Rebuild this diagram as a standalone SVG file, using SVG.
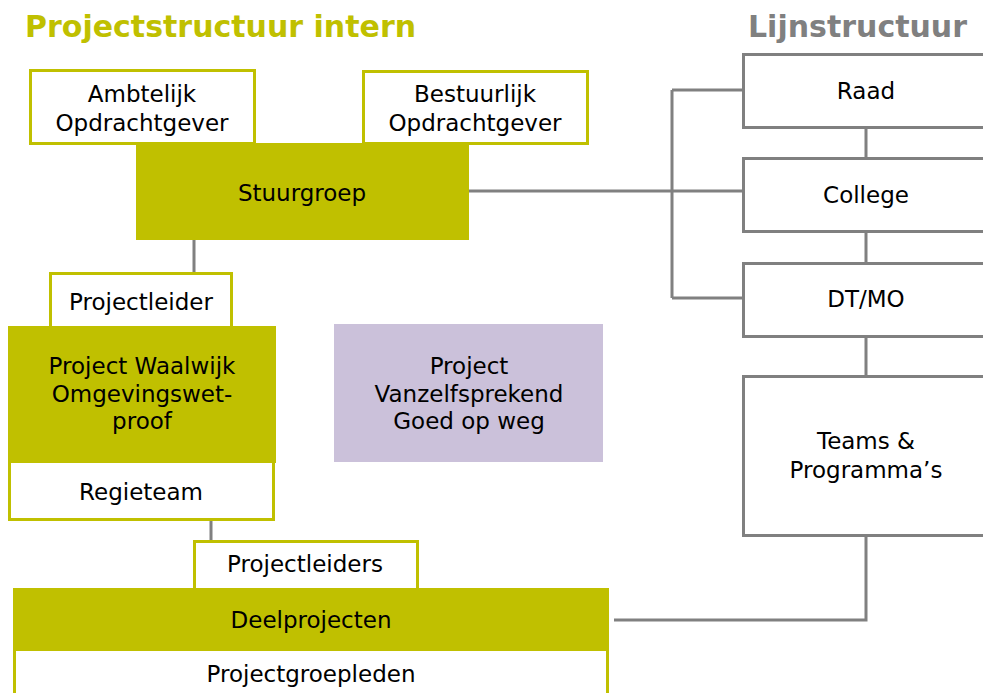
<svg xmlns="http://www.w3.org/2000/svg" width="983" height="693" viewBox="0 0 983 693">
<style>
text{font-family:"DejaVu Sans",Verdana,sans-serif;font-size:23px;fill:#000;text-anchor:middle}
.title{font-size:30px;font-weight:bold;text-anchor:start}
.wb{fill:#fff;stroke:#C0C000;stroke-width:3}
.ol{fill:#C0C000}
.gb{fill:#fff;stroke:#808080;stroke-width:3}
.pu{fill:#CBC1DA}
.cn{fill:none;stroke:#808080;stroke-width:3}
</style>
<rect width="983" height="693" fill="#fff"/>
<text class="title" x="25" y="37" fill="#C0C000" style="fill:#C0C000">Projectstructuur intern</text>
<text class="title" x="748" y="37" style="fill:#808080">Lijnstructuur</text>
<g id="connectors">
<path class="cn" d="M469 191H742M672 90V298M672 90H742M672 298H742"/>
<path class="cn" d="M866 128V157M866 231V262M866 336V375M866 535V620H614"/>
<path class="cn" d="M194 240V272M211 520V541"/>
</g>
<g id="ambtelijk">
<rect class="wb" x="30.5" y="70.5" width="224" height="73"/>
<text x="142" y="102">Ambtelijk</text>
<text x="142" y="131">Opdrachtgever</text>
</g>
<g id="bestuurlijk">
<rect class="wb" x="363.5" y="71.5" width="224" height="72"/>
<text x="475" y="102">Bestuurlijk</text>
<text x="475" y="131">Opdrachtgever</text>
</g>
<g id="stuurgroep">
<rect class="ol" x="136" y="143" width="333" height="97"/>
<text x="302" y="201">Stuurgroep</text>
</g>
<g id="raad">
<rect class="gb" x="743.5" y="54.5" width="260" height="73"/>
<text x="866" y="99">Raad</text>
</g>
<g id="college">
<rect class="gb" x="743.5" y="158.5" width="260" height="73"/>
<text x="866" y="203">College</text>
</g>
<g id="dtmo">
<rect class="gb" x="743.5" y="263.5" width="260" height="73"/>
<text x="866" y="307">DT/MO</text>
</g>
<g id="teams">
<rect class="gb" x="743.5" y="376.5" width="260" height="159"/>
<text x="866" y="449">Teams &amp;</text>
<text x="866" y="478">Programma’s</text>
</g>
<g id="projectleider">
<rect class="wb" x="50.5" y="273.5" width="181" height="54"/>
<text x="141" y="310">Projectleider</text>
</g>
<g id="regieteam">
<rect class="wb" x="9.5" y="460.5" width="264" height="59"/>
<text x="141" y="500">Regieteam</text>
</g>
<g id="waalwijk">
<rect class="ol" x="8" y="326" width="268" height="137"/>
<text x="142" y="374">Project Waalwijk</text>
<text x="142" y="402">Omgevingswet-</text>
<text x="142" y="429">proof</text>
</g>
<g id="vanzelfsprekend">
<rect class="pu" x="334" y="324" width="269" height="138"/>
<text x="469" y="374">Project</text>
<text x="469" y="402">Vanzelfsprekend</text>
<text x="469" y="429">Goed op weg</text>
</g>
<g id="projectleiders">
<rect class="wb" x="194.5" y="541.5" width="223" height="50"/>
<text x="305" y="572">Projectleiders</text>
</g>
<g id="projectgroepleden">
<rect class="wb" x="14.5" y="648.5" width="593" height="60"/>
<text x="311" y="682">Projectgroepleden</text>
</g>
<g id="deelprojecten">
<rect class="ol" x="13" y="588" width="596" height="63"/>
<text x="311" y="628">Deelprojecten</text>
</g>
</svg>
